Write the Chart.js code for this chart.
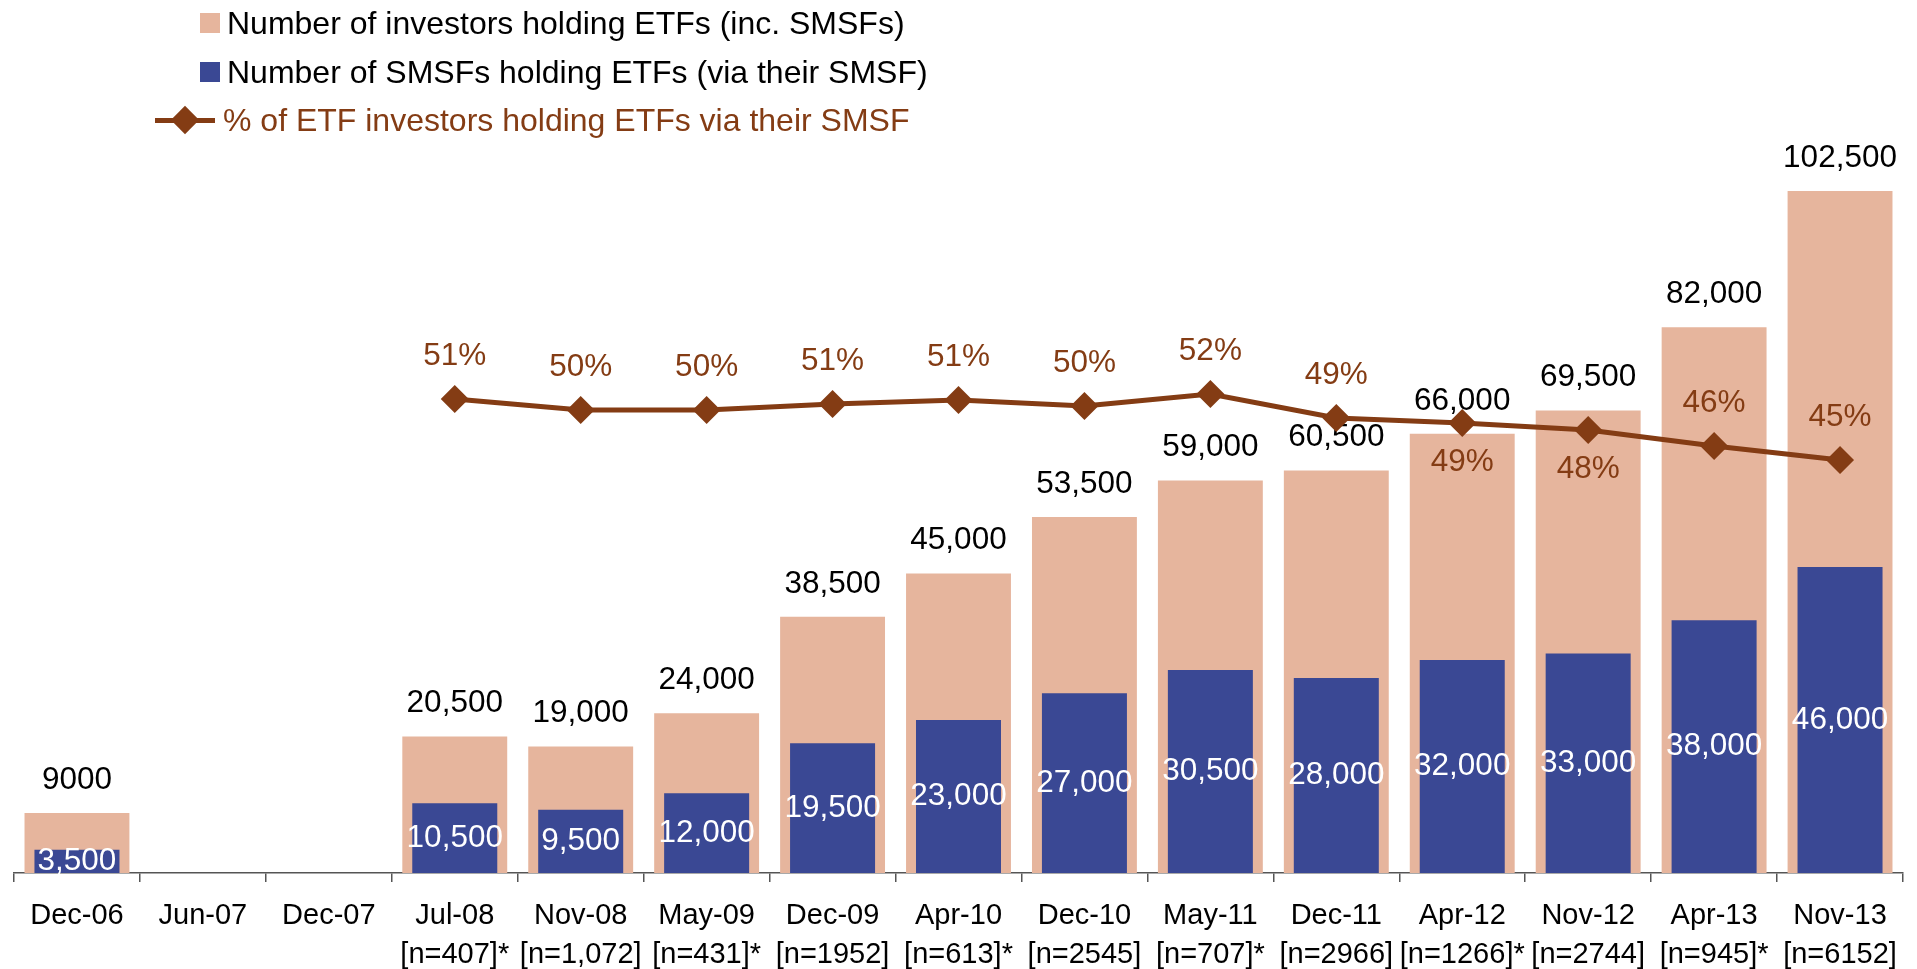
<!DOCTYPE html>
<html>
<head>
<meta charset="utf-8">
<script src="https://cdn.jsdelivr.net/npm/chart.js@4"></script>
<style>
  body { margin: 0; background: #fff; font-family: "Liberation Sans", Arial, sans-serif; }
  #wrap { position: relative; width: 1917px; height: 969px; }
  #legend { position: absolute; left: 0; top: 0; font-size: 32px; }
  .row { position: absolute; white-space: nowrap; display: flex; align-items: center; height: 36px; }
  .sq { width: 20px; height: 20px; margin-right: 7px; }
  .ln { position: relative; width: 60px; height: 5px; background: #843c14; margin-right: 8px; }
  .ln::after { content: ""; position: absolute; left: 20px; top: -7.5px; width: 20px; height: 20px; background: #843c14; transform: rotate(45deg); }
</style>
</head>
<body>
<div id="wrap">
  <canvas id="etfChart"></canvas>
  <div id="legend">
    <div class="row" style="left:200px; top:5px;"><div class="sq" style="background:#e6b59d"></div>Number of investors holding ETFs (inc. SMSFs)</div>
    <div class="row" style="left:200px; top:54px;"><div class="sq" style="background:#3a4894"></div>Number of SMSFs holding ETFs (via their SMSF)</div>
    <div class="row" style="left:155px; top:102px; color:#843c14;"><div class="ln"></div>% of ETF investors holding ETFs via their SMSF</div>
  </div>
</div>
<script>
// data
const periods = ["Dec-06", "Jun-07", "Dec-07", "Jul-08", "Nov-08", "May-09", "Dec-09", "Apr-10", "Dec-10", "May-11", "Dec-11", "Apr-12", "Nov-12", "Apr-13", "Nov-13"];
const sampleSizes = ["", "", "", "[n=407]*", "[n=1,072]", "[n=431]*", "[n=1952]", "[n=613]*", "[n=2545]", "[n=707]*", "[n=2966]", "[n=1266]*", "[n=2744]", "[n=945]*", "[n=6152]"];
const totalInvestors = [9000, null, null, 20500, 19000, 24000, 38500, 45000, 53500, 59000, 60500, 66000, 69500, 82000, 102500];
// bar heights as drawn (Dec-11 bar is taller than its printed label)
const smsfInvestors = [3500, null, null, 10500, 9500, 12000, 19500, 23000, 27000, 30500, 29300, 32000, 33000, 38000, 46000];
// text printed on the bars
const totalLabels = ["9000", "", "", "20,500", "19,000", "24,000", "38,500", "45,000", "53,500", "59,000", "60,500", "66,000", "69,500", "82,000", "102,500"];
const smsfLabels = ["3,500", "", "", "10,500", "9,500", "12,000", "19,500", "23,000", "27,000", "30,500", "28,000", "32,000", "33,000", "38,000", "46,000"];
const smsfShare = [null, null, null, 51.1, 50.0, 50.0, 50.6, 51.0, 50.4, 51.6, 49.2, 48.7, 48.0, 46.4, 45.0];
// periods whose % label sits under the marker
const shareLabelBelow = ["Apr-12", "Nov-12"];

const PINK = "#e6b59d";
const BLUE = "#3a4894";
const BROWN = "#843c14";
const FONT = "31.5px 'Liberation Sans', Arial, sans-serif";

// value labels: bar labels go under the line, % labels on top
const valueLabels = {
    id: "valueLabels",
    afterDatasetDraw(chart, args) {
        const ctx = chart.ctx;
        const ds = chart.data.datasets[args.index];
        if (ds.type === "line") return;
        ctx.save();
        ctx.font = FONT;
        ctx.textAlign = "center";
        ctx.textBaseline = "middle";
        args.meta.data.forEach((bar, i) => {
            if (ds.data[i] === null) return;
            if (args.index === 0) {
                ctx.fillStyle = "#000";
                ctx.fillText(totalLabels[i], bar.x, bar.y - 33);
            } else {
                ctx.fillStyle = "#fff";
                ctx.fillText(smsfLabels[i], bar.x, (bar.y + bar.base) / 2);
            }
        });
        ctx.restore();
    },
    afterDatasetsDraw(chart) {
        const ctx = chart.ctx;
        const meta = chart.getDatasetMeta(2);
        ctx.save();
        ctx.font = FONT;
        ctx.textAlign = "center";
        ctx.textBaseline = "middle";
        ctx.fillStyle = BROWN;
        meta.data.forEach((pt, i) => {
            const v = smsfShare[i];
            if (v === null) return;
            const below = shareLabelBelow.includes(periods[i]);
            ctx.fillText(Math.round(v) + "%", pt.x, below ? pt.y + 39 : pt.y - 43);
        });
        ctx.restore();
    }
};

const ctx = document.getElementById("etfChart").getContext("2d");
const etfChart = new Chart(ctx, {
    data: {
        labels: periods.map((p, i) => sampleSizes[i] ? [p, sampleSizes[i]] : [p]),
        datasets: [
            {
                type: "bar",
                label: "Number of investors holding ETFs (inc. SMSFs)",
                data: totalInvestors,
                backgroundColor: PINK,
                grouped: false,
                categoryPercentage: 1,
                barPercentage: 0.833,
                order: 2,
                yAxisID: "y"
            },
            {
                type: "bar",
                label: "Number of SMSFs holding ETFs (via their SMSF)",
                data: smsfInvestors,
                backgroundColor: BLUE,
                grouped: false,
                categoryPercentage: 1,
                barPercentage: 0.675,
                order: 1,
                yAxisID: "y"
            },
            {
                type: "line",
                label: "% of ETF investors holding ETFs via their SMSF",
                data: smsfShare,
                borderColor: BROWN,
                backgroundColor: BROWN,
                borderWidth: 5,
                pointStyle: "rectRot",
                pointRadius: 14,
                pointBackgroundColor: BROWN,
                pointBorderWidth: 0,
                tension: 0,
                order: 0,
                yAxisID: "y2"
            }
        ]
    },
    options: {
        responsive: true,
        maintainAspectRatio: false,
        animation: false,
        layout: { padding: { left: 12, right: 14, top: 74.5, bottom: 0 } },
        plugins: {
            legend: { display: false },
            tooltip: { enabled: false }
        },
        scales: {
            x: {
                offset: true,
                grid: { offset: true, drawOnChartArea: false, drawTicks: true, tickLength: 9, color: "#555", lineWidth: 1.5 },
                border: { display: true, color: "#555", width: 1.5 },
                ticks: {
                    color: "#000",
                    padding: 15,
                    maxRotation: 0,
                    autoSkip: false,
                    font: { family: "'Liberation Sans', Arial, sans-serif", size: 29, lineHeight: 1.33 }
                },
                afterFit: (scale) => { scale.height = 96; }
            },
            y: { display: false, min: 0, max: 120000 },
            y2: { display: false, min: 3.7, max: 83.55 }
        }
    },
    plugins: [valueLabels]
});
</script>
</body>
</html>
